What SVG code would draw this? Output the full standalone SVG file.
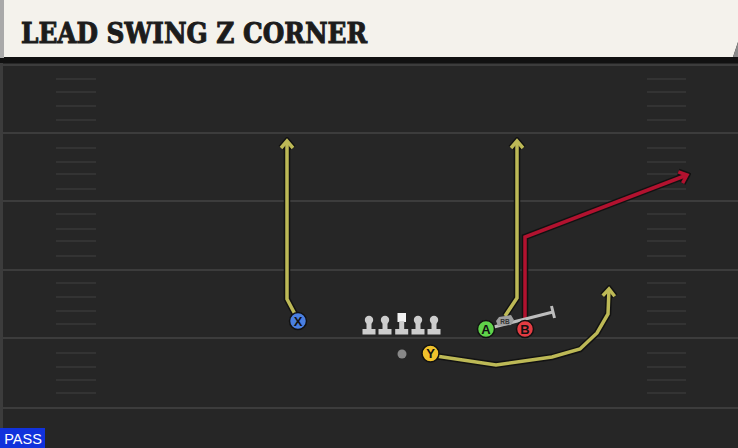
<svg xmlns="http://www.w3.org/2000/svg" width="738" height="448" viewBox="0 0 738 448">
<style>
.yl{fill:none;stroke:#bdb956;stroke-width:3.5;stroke-linejoin:miter}
.rd{fill:none;stroke:#b2122f;stroke-width:3.5}
.ol{fill:none;stroke:#121212;stroke-width:6.5}
.fl{stroke:#3c3c3c;stroke-width:2}
.hs{stroke:#393939;stroke-width:1.5}
.lt{font-family:"Liberation Sans",Arial,sans-serif;font-weight:bold;font-size:13px;fill:#111;text-anchor:middle}
.ln{fill:#cdcdcd}
</style>
<defs>
<marker id="ao" viewBox="-12 -10 16 20" refX="0" refY="0" markerWidth="16" markerHeight="20" markerUnits="userSpaceOnUse" orient="auto"><path d="M-7,-6 L0,0 L-7,6" fill="none" stroke="#121212" stroke-width="6.5"/></marker>
<marker id="ay" viewBox="-12 -10 16 20" refX="0" refY="0" markerWidth="16" markerHeight="20" markerUnits="userSpaceOnUse" orient="auto"><path d="M-7,-6 L0,0 L-7,6" fill="none" stroke="#bdb956" stroke-width="3.5"/></marker>
<marker id="ar" viewBox="-12 -10 16 20" refX="0" refY="0" markerWidth="16" markerHeight="20" markerUnits="userSpaceOnUse" orient="auto"><path d="M-7,-6 L0,0 L-7,6" fill="none" stroke="#b2122f" stroke-width="3.5"/></marker>
<g id="lineman"><circle cx="0" cy="-8" r="4.2" class="ln"/><rect x="-2.5" y="-6" width="5" height="8" class="ln"/><rect x="-6.5" y="1" width="13" height="5.5" class="ln"/></g>
</defs>
<rect width="738" height="448" fill="#262626"/>
<g id="field">
<rect x="0" y="62" width="3" height="386" fill="#3c3c3c"/>
<line class="fl" x1="0" y1="65" x2="738" y2="65"/>
<line class="fl" x1="0" y1="133" x2="738" y2="133"/>
<line class="fl" x1="0" y1="201" x2="738" y2="201"/>
<line class="fl" x1="0" y1="270" x2="738" y2="270"/>
<line class="fl" x1="0" y1="338" x2="738" y2="338"/>
<line class="fl" x1="0" y1="408" x2="738" y2="408"/>
<g class="hs">
<line x1="56" y1="79" x2="96" y2="79"/><line x1="56" y1="92" x2="96" y2="92"/><line x1="56" y1="106" x2="96" y2="106"/><line x1="56" y1="120" x2="96" y2="120"/>
<line x1="56" y1="148" x2="96" y2="148"/><line x1="56" y1="162" x2="96" y2="162"/><line x1="56" y1="174" x2="96" y2="174"/><line x1="56" y1="189" x2="96" y2="189"/>
<line x1="56" y1="214" x2="96" y2="214"/><line x1="56" y1="229" x2="96" y2="229"/><line x1="56" y1="241" x2="96" y2="241"/><line x1="56" y1="256" x2="96" y2="256"/>
<line x1="56" y1="283" x2="96" y2="283"/><line x1="56" y1="297" x2="96" y2="297"/><line x1="56" y1="311" x2="96" y2="311"/><line x1="56" y1="324" x2="96" y2="324"/>
<line x1="56" y1="353" x2="96" y2="353"/><line x1="56" y1="367" x2="96" y2="367"/><line x1="56" y1="380" x2="96" y2="380"/><line x1="56" y1="393" x2="96" y2="393"/>
<line x1="647" y1="79" x2="686" y2="79"/><line x1="647" y1="92" x2="686" y2="92"/><line x1="647" y1="106" x2="686" y2="106"/><line x1="647" y1="120" x2="686" y2="120"/>
<line x1="647" y1="148" x2="686" y2="148"/><line x1="647" y1="162" x2="686" y2="162"/><line x1="647" y1="174" x2="686" y2="174"/><line x1="647" y1="189" x2="686" y2="189"/>
<line x1="647" y1="214" x2="686" y2="214"/><line x1="647" y1="229" x2="686" y2="229"/><line x1="647" y1="241" x2="686" y2="241"/><line x1="647" y1="256" x2="686" y2="256"/>
<line x1="647" y1="283" x2="686" y2="283"/><line x1="647" y1="297" x2="686" y2="297"/><line x1="647" y1="311" x2="686" y2="311"/><line x1="647" y1="324" x2="686" y2="324"/>
<line x1="647" y1="353" x2="686" y2="353"/><line x1="647" y1="367" x2="686" y2="367"/><line x1="647" y1="380" x2="686" y2="380"/><line x1="647" y1="393" x2="686" y2="393"/>
</g>
</g>
<g id="header">
<rect x="0" y="57" width="738" height="6" fill="#111"/>
<rect x="0" y="0" width="4" height="58" fill="#a9a9a9"/>
<path d="M4,0 H738 V42 L733,57 H4 Z" fill="#f4f2ec"/>
<path d="M733,57 L738,42 V57 Z" fill="#8a8a8a"/>
<text x="21" y="43" font-family="'DejaVu Serif','Liberation Serif',serif" font-weight="bold" font-size="28" fill="#1c1c1c" stroke="#1c1c1c" stroke-width="1" textLength="346" lengthAdjust="spacingAndGlyphs">LEAD SWING Z CORNER</text>
</g>
<g id="connectors">
<path class="ol" d="M296,316 L287,299 L287,141" marker-end="url(#ao)"/>
<path class="yl" d="M296,316 L287,299 L287,141" marker-end="url(#ay)"/>
<path class="ol" d="M505,316 L517,298 L517,141" marker-end="url(#ao)"/>
<path class="yl" d="M505,316 L517,298 L517,141" marker-end="url(#ay)"/>
<path class="ol" d="M525,322 L525,237 L687,175" marker-end="url(#ao)"/>
<path class="rd" d="M525,322 L525,237 L687,175" marker-end="url(#ar)"/>
<path class="ol" d="M436,356 L496,365 L552,357 L580,349 L597,333 L608,314 L609,289" marker-end="url(#ao)"/>
<path class="yl" d="M436,356 L496,365 L552,357 L580,349 L597,333 L608,314 L609,289" marker-end="url(#ay)"/>
<g id="block">
<line x1="486" y1="329" x2="553" y2="312" stroke="#bdbdbd" stroke-width="3"/>
<line x1="551.5" y1="306" x2="554.5" y2="318" stroke="#bdbdbd" stroke-width="3"/>
<path d="M499,317 L511,315 L514,320 L511,325 L498,326 L496,321 Z" fill="#9e9e9e"/>
<text x="505" y="324" font-family="'Liberation Sans',Arial,sans-serif" font-size="6.5" font-weight="bold" fill="#333" text-anchor="middle">RB</text>
</g>
</g>
<g id="ol">
<use href="#lineman" x="369" y="328"/>
<use href="#lineman" x="385" y="328"/>
<g id="center"><rect x="397.5" y="313" width="8.5" height="9" fill="#f2f2f2"/><rect x="399.2" y="321" width="5" height="8" class="ln"/><rect x="395.2" y="329" width="13" height="5.5" class="ln"/></g>
<use href="#lineman" x="418" y="328"/>
<use href="#lineman" x="434" y="328"/>
</g>
<g id="qb"><circle cx="402" cy="354" r="4.5" fill="#888"/></g>
<g id="X"><circle cx="298" cy="321" r="8.5" fill="#4a7fe0" stroke="#111" stroke-width="1.5"/><text class="lt" x="298" y="325.5">X</text></g>
<g id="A"><circle cx="486" cy="329" r="8.5" fill="#5fd34a" stroke="#111" stroke-width="1.5"/><text class="lt" x="486" y="333.5">A</text></g>
<g id="B"><circle cx="525" cy="329" r="8.5" fill="#e43c43" stroke="#111" stroke-width="1.5"/><text class="lt" x="525" y="333.5">B</text></g>
<g id="Y"><circle cx="430.5" cy="353.5" r="8.5" fill="#f0c22c" stroke="#111" stroke-width="1.5"/><text class="lt" x="430.5" y="358">Y</text></g>
<g id="pass"><rect x="0" y="428" width="45" height="20" fill="#1132dc"/><text x="23" y="443.5" font-family="'Liberation Sans',Arial,sans-serif" font-size="14.5" fill="#fff" text-anchor="middle">PASS</text></g>
</svg>
